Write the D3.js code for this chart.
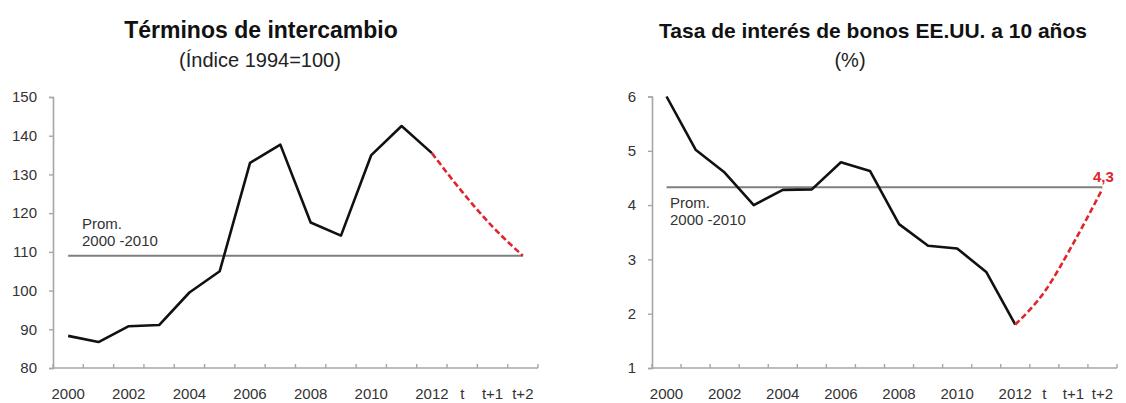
<!DOCTYPE html>
<html>
<head>
<meta charset="utf-8">
<script src="https://cdn.jsdelivr.net/npm/d3@7"></script>
<style>
  html, body { margin: 0; padding: 0; background: #fff; }
  svg { display: block; font-family: "Liberation Sans", Arial, sans-serif; }
</style>
</head>
<body>
<svg id="chart" width="1126" height="403"></svg>
<script>
// Categories shared by both panels: years plus projection horizon
const categories = ["2000","2001","2002","2003","2004","2005","2006","2007","2008","2009","2010","2011","2012","t","t+1","t+2"];
const shownLabels = ["2000","2002","2004","2006","2008","2010","2012","t","t+1","t+2"];

// Terms of trade (index 1994=100)
const totHistory = [88.3, 86.7, 90.8, 91.1, 99.5, 105.0, 133.0, 137.7, 117.6, 114.2, 135.0, 142.5, 135.5];
const totProjection = [135.5, 125.5, 116.5, 109.0];   // 2012, t, t+1, t+2
const totAverage = 109.0;
const totTicks = [80, 90, 100, 110, 120, 130, 140, 150];

// US 10-year bond yield (%)
const bondHistory = [6.0, 5.02, 4.6, 4.0, 4.28, 4.29, 4.79, 4.63, 3.65, 3.25, 3.2, 2.77, 1.8];
const bondProjection = [1.8, 2.4, 3.3, 4.3];          // 2012, t, t+1, t+2
const bondAverage = 4.33;
const bondTicks = [1, 2, 3, 4, 5, 6];
const bondEndLabel = "4,3";

const svg = d3.select("#chart");
const AXIS = "#a6a6a6", TXT = "#333", RED = "#e0242c";

function panel(cfg) {
  const g = svg.append("g");
  const x = d3.scaleBand().domain(categories).range([cfg.x0, cfg.x1]).paddingInner(0).paddingOuter(0);
  const y = d3.scaleLinear().domain(cfg.domain).range([cfg.yBottom, cfg.yTop]);
  const cx = c => x(c) + x.bandwidth() / 2;

  // titles
  g.append("text").attr("x", cfg.titleX).attr("y", 38).attr("text-anchor", "middle")
    .attr("font-size", cfg.titleSize).attr("font-weight", "bold").attr("fill", "#111").text(cfg.title);
  g.append("text").attr("x", cfg.subX).attr("y", 67).attr("text-anchor", "middle")
    .attr("font-size", 20).attr("fill", "#222").text(cfg.subtitle);

  // y axis
  const ya = g.append("g").attr("transform", `translate(${cfg.x0},0)`)
    .call(d3.axisLeft(y).tickValues(cfg.ticks).tickFormat(d3.format("d")).tickSize(4).tickPadding(12));
  ya.select(".domain").attr("stroke", AXIS).attr("stroke-width", 1.6);
  ya.selectAll(".tick line").attr("stroke", AXIS).attr("stroke-width", 1.4);
  ya.selectAll(".tick text").attr("font-size", 15).attr("fill", TXT).attr("font-family", null);

  // x axis: baseline, boundary ticks pointing up, labels at band centres
  g.append("line").attr("x1", cfg.x0).attr("x2", cfg.x1)
    .attr("y1", cfg.yBottom).attr("y2", cfg.yBottom).attr("stroke", AXIS).attr("stroke-width", 1.6);
  g.selectAll(".xtick").data(categories.concat(["end"])).join("line")
    .attr("class", "xtick")
    .attr("x1", d => d === "end" ? cfg.x1 : x(d))
    .attr("x2", d => d === "end" ? cfg.x1 : x(d))
    .attr("y1", cfg.yBottom).attr("y2", cfg.yBottom - 4)
    .attr("stroke", AXIS).attr("stroke-width", 1.4);
  g.selectAll(".xlab").data(shownLabels).join("text")
    .attr("class", "xlab")
    .attr("x", d => cx(d)).attr("y", cfg.yBottom + 31)
    .attr("text-anchor", "middle").attr("font-size", 15).attr("fill", TXT).text(d => d);

  // average reference line with its label
  g.append("line").attr("x1", cx(categories[0])).attr("x2", cx(categories[categories.length - 1]))
    .attr("y1", y(cfg.average)).attr("y2", y(cfg.average))
    .attr("stroke", "#7f7f7f").attr("stroke-width", 2);
  const lab = g.append("text").attr("x", cfg.avgLabelX).attr("y", cfg.avgLabelY)
    .attr("font-size", 15).attr("fill", TXT);
  lab.append("tspan").attr("x", cfg.avgLabelX).text("Prom.");
  lab.append("tspan").attr("x", cfg.avgLabelX).attr("dy", 17).text("2000 -2010");

  // historical series
  const hist = cfg.history.map((v, i) => [categories[i], v]);
  g.append("path").datum(hist)
    .attr("d", d3.line().x(d => cx(d[0])).y(d => y(d[1])))
    .attr("fill", "none").attr("stroke", "#111").attr("stroke-width", 2.6)
    .attr("stroke-linejoin", "round");

  // projection, dashed red
  const start = cfg.history.length - 1;
  const proj = cfg.projection.map((v, i) => [categories[start + i], v]);
  g.append("path").datum(proj)
    .attr("d", d3.line().curve(d3.curveMonotoneX).x(d => cx(d[0])).y(d => y(d[1])))
    .attr("fill", "none").attr("stroke", RED).attr("stroke-width", 2.6)
    .attr("stroke-dasharray", "6,3");

  if (cfg.endLabel) {
    const last = proj[proj.length - 1];
    g.append("text").attr("x", cx(last[0]) + 1).attr("y", y(last[1]) - 7)
      .attr("text-anchor", "middle").attr("font-size", 15).attr("font-weight", "bold")
      .attr("fill", RED).text(cfg.endLabel);
  }
}

panel({
  x0: 53, x1: 538, yTop: 97, yBottom: 368, domain: [80, 150], ticks: totTicks,
  history: totHistory, projection: totProjection, average: totAverage,
  title: "Términos de intercambio", subtitle: "(Índice 1994=100)",
  titleX: 261, subX: 260, titleSize: 23,
  avgLabelX: 82, avgLabelY: 229
});

panel({
  x0: 652, x1: 1117, yTop: 96.5, yBottom: 368, domain: [1, 6], ticks: bondTicks,
  history: bondHistory, projection: bondProjection, average: bondAverage,
  title: "Tasa de interés de bonos EE.UU. a 10 años", subtitle: "(%)",
  titleX: 873, subX: 850, titleSize: 21,
  avgLabelX: 670, avgLabelY: 208, endLabel: bondEndLabel
});
</script>
</body>
</html>
